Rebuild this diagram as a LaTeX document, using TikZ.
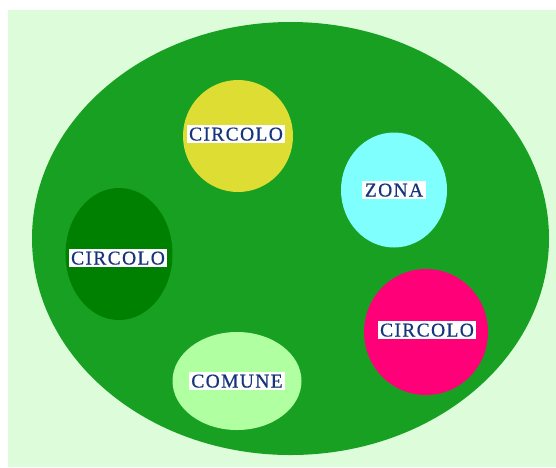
\documentclass[tikz,border=0pt]{standalone}
\usepackage{fontspec}
\newfontfamily\labfont[LetterSpace=7,FakeBold=0.6]{Liberation Serif}
\usetikzlibrary{shapes.geometric}
\definecolor{bgc}{RGB}{221,252,217}
\definecolor{bigc}{RGB}{24,160,35}
\definecolor{yelc}{RGB}{221,221,51}
\definecolor{cyac}{RGB}{128,255,255}
\definecolor{dgrc}{RGB}{0,128,0}
\definecolor{magc}{RGB}{255,0,120}
\definecolor{lgrc}{RGB}{176,255,160}
\definecolor{txtc}{RGB}{22,52,122}
\tikzset{
  blob/.style={ellipse, inner sep=0pt, draw=none},
  lab/.style={fill=white, text=txtc, inner xsep=2.5pt, inner ysep=2.5pt, text height=13pt, text depth=0pt, font=\labfont\fontsize{19.5}{20}\selectfont}
}
\begin{document}
\begin{tikzpicture}[x=1pt,y=-1pt]
\useasboundingbox (0,0) rectangle (556,467);
\fill[bgc] (8,10) rectangle (556,467);
\node[blob, fill=bigc, minimum width=517pt, minimum height=433pt] (big) at (290.5,238.5) {};
\node[blob, fill=yelc, minimum width=110pt, minimum height=112pt] (yel) at (238,136) {};
\node[blob, fill=cyac, minimum width=106pt, minimum height=115pt] (cya) at (394,190) {};
\node[blob, fill=dgrc, minimum width=107pt, minimum height=132pt] (dgr) at (119,254) {};
\node[blob, fill=magc, minimum width=124pt, minimum height=126pt] (mag) at (426,332) {};
\node[blob, fill=lgrc, minimum width=129pt, minimum height=98pt] (lgr) at (237,381) {};
\node[lab] (l1) at (236,134) {CIRCOLO};
\node[lab] (l2) at (118,258) {CIRCOLO};
\node[lab] (l3) at (394,190) {ZONA};
\node[lab] (l4) at (427,330) {CIRCOLO};
\node[lab] (l5) at (237,381) {COMUNE};
\end{tikzpicture}
\end{document}
